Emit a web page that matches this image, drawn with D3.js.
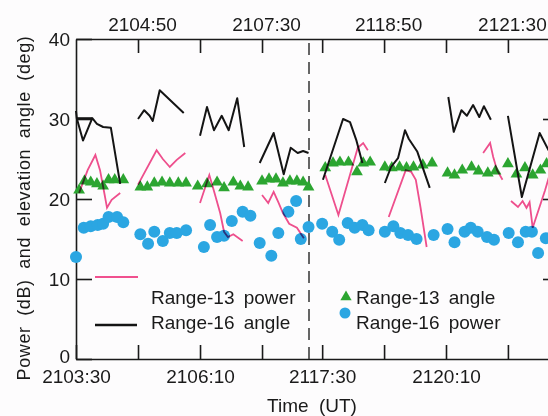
<!DOCTYPE html>
<html>
<head>
<meta charset="utf-8">
<script src="https://cdn.jsdelivr.net/npm/d3@7/dist/d3.min.js"></script>
<style>
  body { margin: 0; background: #fdfcfd; }
  svg { display: block; }
  text { font-family: "Liberation Sans", Arial, sans-serif; fill: #1a1a1a; }
  .axis path, .axis line { stroke: #1a1a1a; stroke-width: 1.6; }
  .axis text { font-size: 19px; }
</style>
</head>
<body>
<svg id="chart" width="548" height="416"></svg>
<script>
// time = seconds after 21:00:00 UT, value = dB or deg
var r16Angle = [
  [[210,31.0],[211,30.1],[219,27.3],[231,30.1],[237,29.4],[245,29.0],[255,28.9],[267,21.9]],
  [[211,30.1],[231,30.1]],
  [[290,30.0],[298,31.1],[305,30.4],[309,29.75],[318,33.6],[349,30.75]],
  [[370,27.9],[379,31.5],[388,28.6],[398,30.4],[407,28.6],[418,32.6],[427,26.5]],
  [[447,24.5],[465,28.25],[478,23.1],[487,26.4],[496,25.75],[503,26.0],[510,25.75]],
  [[1051,22.4],[1077,30.0],[1086,29.6],[1094,27.4],[1102,24.5]],
  [[1131,22.0],[1139,24.0],[1148,25.1],[1157,28.6],[1162,27.5],[1173,25.9],[1189,21.4]],
  [[1213,32.75],[1220,28.4],[1230,31.1],[1237,30.4],[1245,31.75],[1253,30.25],[1259,31.6],[1268,29.9]],
  [[1290,30.4],[1308,20.25],[1331,28.25],[1343,26.0]]
];

var r13Power = [
  [[214,20.75],[225,23.6],[235,25.5],[241,23.6],[247,20.5],[250,18.9],[256,19.9],[267,20.75]],
  [[290,21.8],[314,26.1],[322,25.0],[331,24.0],[340,24.9],[351,25.75]],
  [[370,19.5],[382,23.0],[388,21.0],[396,18.25],[401,15.9],[406,15.25],[413,15.6],[425,14.75]],
  [[450,20.5],[458,19.5],[465,20.9],[471,19.6],[477,18.25],[485,16.9],[495,16.4],[504,15.1]],
  [[1054,23.0],[1071,18.0],[1096,26.4],[1103,27.0],[1109,26.1]],
  [[1136,17.75],[1158,23.6],[1165,23.4],[1171,22.4],[1177,19.0],[1185,14.0]],
  [[1258,25.75],[1267,27.0],[1271,25.25],[1276,23.6],[1283,22.4]],
  [[1294,19.75],[1303,19.0],[1309,19.75],[1314,18.9],[1318,19.6],[1322,16.4],[1338,21.1],[1345,23.4]]
];

var r13Angle = [
  [214,21.1],[221,22.25],[229,22.1],[237,21.9],[245,21.6],[252,22.4],[260,22.4],[271,22.4],
  [293,21.5],[302,21.5],[311,22.0],[321,22.1],[331,22.0],[342,22.0],[352,22.0],
  [367,21.6],[379,21.9],[392,22.1],[401,21.4],[413,22.1],[422,21.6],[432,21.5],
  [450,22.25],[459,22.5],[468,22.5],[477,22.0],[486,22.25],[495,22.25],[503,22.1],[510,21.5],
  [1054,23.9],[1064,24.5],[1073,24.6],[1084,24.6],[1095,23.4],[1103,24.5],[1112,24.6],
  [1131,24.0],[1140,23.9],[1150,24.0],[1159,23.9],[1168,24.0],[1180,24.25],[1192,24.5],
  [1212,23.25],[1221,23.0],[1231,23.6],[1243,24.0],[1252,23.5],[1264,23.25],[1274,23.5],
  [1290,24.4],[1301,23.1],[1312,23.9],[1322,23.0],[1332,23.6],[1340,24.4]
];

var r16Power = [
  [210,12.75],[220,16.4],[229,16.6],[238,16.75],[245,16.9],[252,17.75],[263,17.75],[271,17.1],
  [293,15.6],[303,14.4],[311,15.9],[322,14.75],[331,15.75],[340,15.75],[352,16.1],
  [375,14.0],[383,16.75],[392,15.25],[401,15.4],[411,17.25],[425,18.4],[435,17.9],
  [447,14.5],[462,12.9],[471,15.75],[484,18.4],[494,19.75],[500,15.0],[510,16.5],
  [1050,16.9],[1063,15.9],[1072,14.9],[1083,17.0],[1092,16.4],[1102,16.75],[1110,16.1],
  [1131,15.9],[1142,16.6],[1151,15.75],[1161,15.5],[1172,15.0],[1194,15.5],
  [1212,16.25],[1221,14.6],[1234,15.9],[1242,16.4],[1251,15.9],[1263,15.25],[1272,14.9],
  [1291,15.75],[1303,14.6],[1313,15.9],[1321,15.9],[1329,13.25],[1339,15.1]
];

var yTicks = [0, 10, 20, 30, 40];
var timeTicks = [290, 370, 450, 1050, 1130, 1210, 1290];
var bottomLabels = [210, 370, 1050, 1210];
var topLabels = [290, 450, 1130, 1290];
var breakTime = 1033;

var svg = d3.select("#chart");

var pink = "#f0508e", green = "#2ca531", blue = "#2ba6e2", black = "#141414";

// broken time axis: 2103:30-2108:30 then 2117:10 onward
var x = d3.scaleLinear()
    .domain([210, 510.6, breakTime, 1356])
    .range([76, 309, 309, 559]);
var y = d3.scaleLinear().domain([0, 40]).range([359, 39]);

function fmt(t) {
  var s = t % 60;
  return (2100 + Math.floor(t / 60)) + ":" + (s < 10 ? "0" : "") + s;
}

svg.append("rect").attr("width", 548).attr("height", 416).attr("fill", "#fdfcfd");

// axes
svg.append("g").attr("class", "axis")
    .attr("transform", "translate(0,359)")
    .call(d3.axisBottom(x).tickValues([210].concat(timeTicks))
      .tickSizeInner(-14).tickSizeOuter(0).tickPadding(11)
      .tickFormat(function(d) { return bottomLabels.indexOf(d) >= 0 ? fmt(d) : ""; }));

svg.append("g").attr("class", "axis")
    .attr("transform", "translate(0,39)")
    .call(d3.axisTop(x).tickValues(timeTicks)
      .tickSizeInner(-14).tickSizeOuter(0).tickPadding(8)
      .tickFormat(function(d) { return topLabels.indexOf(d) >= 0 ? fmt(d) : ""; }))
    .selectAll("text").attr("dx", 4);

var yAx = svg.append("g").attr("class", "axis")
    .attr("transform", "translate(76,0)")
    .call(d3.axisLeft(y).tickValues(yTicks).tickSizeInner(-16).tickSizeOuter(0).tickPadding(6));
yAx.selectAll("text").filter(function(d) { return d === 0; }).attr("y", -3);

svg.append("g").attr("class", "axis")
    .attr("transform", "translate(559,0)")
    .call(d3.axisRight(y).tickValues([10, 20, 30]).tickSizeInner(-16).tickSizeOuter(0)
      .tickFormat(""));

// break marker
svg.append("line")
    .attr("x1", x(breakTime)).attr("x2", x(breakTime))
    .attr("y1", y(39.5)).attr("y2", y(0))
    .attr("stroke", "#333").attr("stroke-width", 1.5)
    .attr("stroke-dasharray", "12,7");

// points
svg.append("g").selectAll("path")
    .data(r13Angle)
  .enter().append("path")
    .attr("d", d3.symbol().type(d3.symbolTriangle).size(60))
    .attr("transform", function(d) { return "translate(" + x(d[0]) + "," + y(d[1]) + ")"; })
    .attr("fill", green);

svg.append("g").selectAll("circle")
    .data(r16Power)
  .enter().append("circle")
    .attr("cx", function(d) { return x(d[0]); })
    .attr("cy", function(d) { return y(d[1]); })
    .attr("r", 6)
    .attr("fill", blue);

// lines
var line = d3.line()
    .x(function(d) { return x(d[0]); })
    .y(function(d) { return y(d[1]); });

svg.append("g").selectAll("path")
    .data(r16Angle)
  .enter().append("path")
    .attr("d", line)
    .attr("fill", "none")
    .attr("stroke", black)
    .attr("stroke-width", 2)
    .attr("stroke-linejoin", "round");

svg.append("g").selectAll("path")
    .data(r13Power)
  .enter().append("path")
    .attr("d", line)
    .attr("fill", "none")
    .attr("stroke", pink)
    .attr("stroke-width", 1.8)
    .style("mix-blend-mode", "multiply");

// legend
var lg = svg.append("g").style("font-size", "19px").style("word-spacing", "4px");
lg.append("line").attr("x1", 95).attr("x2", 138).attr("y1", 277).attr("y2", 277)
    .attr("stroke", pink).attr("stroke-width", 2);
lg.append("text").attr("x", 151).attr("y", 304).text("Range-13 power");
lg.append("line").attr("x1", 95).attr("x2", 137).attr("y1", 325).attr("y2", 325)
    .attr("stroke", black).attr("stroke-width", 2.5);
lg.append("text").attr("x", 151).attr("y", 329).text("Range-16 angle");

lg.append("path").attr("d", d3.symbol().type(d3.symbolTriangle).size(55))
    .attr("transform", "translate(346,297)").attr("fill", green);
lg.append("text").attr("x", 356).attr("y", 304).text("Range-13 angle");
lg.append("circle").attr("cx", 345).attr("cy", 313).attr("r", 5.5).attr("fill", blue);
lg.append("text").attr("x", 356).attr("y", 329).text("Range-16 power");

// axis titles
svg.append("text")
    .attr("transform", "translate(30,208) rotate(-90)")
    .attr("text-anchor", "middle")
    .style("font-size", "18px").style("letter-spacing", "0.6px").style("word-spacing", "5px")
    .text("Power (dB) and elevation angle (deg)");

svg.append("text")
    .attr("x", 312).attr("y", 412)
    .attr("text-anchor", "middle")
    .style("font-size", "19px").style("word-spacing", "5px")
    .text("Time (UT)");
</script>
</body>
</html>
